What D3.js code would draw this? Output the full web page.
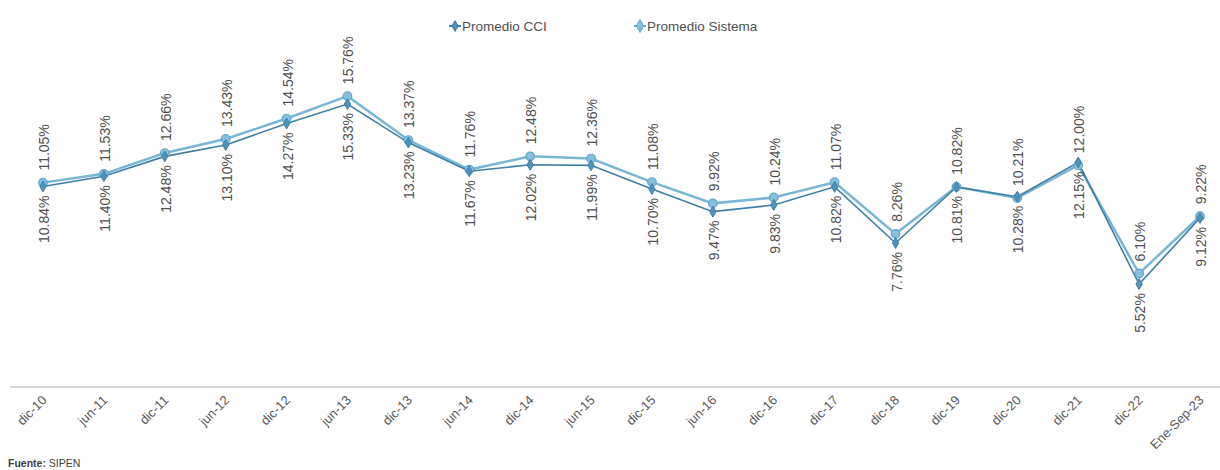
<!DOCTYPE html>
<html><head><meta charset="utf-8">
<script src="https://cdn.jsdelivr.net/npm/d3@7"></script>
<style>
html,body{margin:0;padding:0;background:#fff;}
svg{display:block;font-family:Arial,"Liberation Sans",sans-serif;}
</style></head>
<body>
<svg id="c" width="1220" height="470"></svg>
<script>
const categories = ["dic-10","jun-11","dic-11","jun-12","dic-12","jun-13","dic-13","jun-14","dic-14","jun-15","dic-15","jun-16","dic-16","dic-17","dic-18","dic-19","dic-20","dic-21","dic-22","Ene-Sep-23"];
const cci = [10.84,11.40,12.48,13.10,14.27,15.33,13.23,11.67,12.02,11.99,10.70,9.47,9.83,10.82,7.76,10.81,10.28,12.15,5.52,9.12];
const sistema = [11.05,11.53,12.66,13.43,14.54,15.76,13.37,11.76,12.48,12.36,11.08,9.92,10.24,11.07,8.26,10.82,10.21,12.00,6.10,9.22];
const seriesNames = ["Promedio CCI","Promedio Sistema"];
const footnoteBold = "Fuente:";
const footnoteText = " SIPEN";

const svg = d3.select("#c");
const x = d3.scalePoint().domain(categories).range([43, 1200]);
const y = d3.scaleLinear().domain([0, 20]).range([385.5, 18.3]);

const cciColor = "#3d7ea6", cciFill = "#4f93bb";
const sisColor = "#78b6d5", sisFill = "#86c0dc", sisStroke = "#62a6c9";
const textColor = "#505050";

// axis
const axis = svg.append("g").attr("transform","translate(0,387)")
  .call(d3.axisBottom(x).tickSize(0).tickPadding(0));
axis.select(".domain").remove();
svg.append("line").attr("x1",10).attr("x2",1220).attr("y1",387).attr("y2",387)
  .attr("stroke","#c8c8c8").attr("stroke-width",1.5);
axis.selectAll(".tick text")
  .attr("font-size",13).attr("fill","#5a5a5a").attr("font-family","Arial, 'Liberation Sans', sans-serif")
  .attr("text-anchor","end").attr("dy",0).attr("y",0)
  .attr("transform","translate(4,14) rotate(-45)");

const line = d3.line().x((d,i)=>x(categories[i])).y(d=>y(d));

// Sistema line
svg.append("path").datum(sistema).attr("d",line).attr("fill","none")
  .attr("stroke",sisColor).attr("stroke-width",2.5);
// CCI line
svg.append("path").datum(cci).attr("d",line).attr("fill","none")
  .attr("stroke",cciColor).attr("stroke-width",1.6);

// markers
svg.append("g").selectAll("circle").data(sistema).join("circle")
  .attr("cx",(d,i)=>x(categories[i])).attr("cy",d=>y(d)).attr("r",4.3)
  .attr("fill",sisFill).attr("stroke",sisStroke).attr("stroke-width",1.2);
svg.append("g").selectAll("path").data(cci).join("path")
  .attr("d", d3.symbol().type(d3.symbolDiamond).size(34)())
  .attr("transform",(d,i)=>`translate(${x(categories[i])},${y(d)})`)
  .attr("fill",cciFill).attr("stroke",cciColor).attr("stroke-width",1);

// data labels
const fmt = v => v.toFixed(2) + "%";
svg.append("g").selectAll("text").data(sistema).join("text")
  .attr("transform",(d,i)=>`translate(${x(categories[i])+6},${y(d)-12}) rotate(-90)`)
  .attr("text-anchor","start").attr("font-size",14).attr("fill",textColor)
  .text(fmt);
svg.append("g").selectAll("text").data(cci).join("text")
  .attr("transform",(d,i)=>`translate(${x(categories[i])+6},${y(d)+9}) rotate(-90)`)
  .attr("text-anchor","end").attr("font-size",14).attr("fill",textColor)
  .text(fmt);

// legend
const legend = [
  {name: seriesNames[0], lx: 455, color: cciColor, fill: cciFill, size: 34},
  {name: seriesNames[1], lx: 640, color: sisStroke, fill: sisFill, size: 48}
];
const lg = svg.append("g");
legend.forEach(l => {
  lg.append("line").attr("x1",l.lx-6).attr("x2",l.lx+6).attr("y1",26).attr("y2",26)
    .attr("stroke",l.color).attr("stroke-width",2);
  lg.append("path").attr("d", d3.symbol().type(d3.symbolDiamond).size(l.size)())
    .attr("transform",`translate(${l.lx},26)`).attr("fill",l.fill).attr("stroke",l.color);
  lg.append("text").attr("x",l.lx+7).attr("y",31).attr("font-size",13.5).attr("fill",textColor).text(l.name);
});

// footnote
const fn = svg.append("text").attr("x",8).attr("y",467).attr("font-size",10.5).attr("fill","#404040");
fn.append("tspan").attr("font-weight","bold").text(footnoteBold);
fn.append("tspan").text(footnoteText);
</script>
</body></html>
